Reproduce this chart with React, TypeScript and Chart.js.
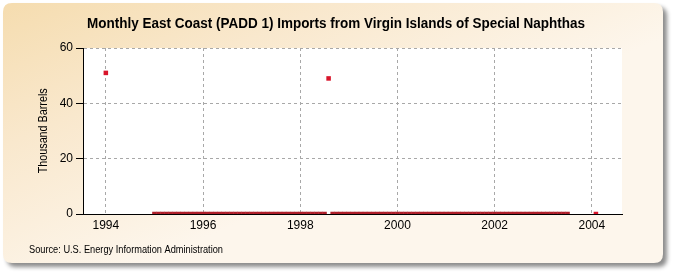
import React, { useEffect, useRef } from "react";
import { Chart, registerables } from "chart.js";

Chart.register(...registerables);

const TITLE = "Monthly East Coast (PADD 1) Imports from Virgin Islands of Special Naphthas";
const Y_TITLE = "Thousand Barrels";
const SOURCE = "Source: U.S. Energy Information Administration";

const X_TICKS = [1994, 1996, 1998, 2000, 2002, 2004];
const Y_TICKS = [0, 20, 40, 60];

const N = null;
// Monthly values (Jan..Dec), thousand barrels; null = no data
const YEARS = [1994, 1995, 1996, 1997, 1998, 1999, 2000, 2001, 2002, 2003, 2004];
const v1994 = [51, N, N, N, N, N, N, N, N, N, N, N];
const v1995 = [0, 0, 0, 0, 0, 0, 0, 0, 0, 0, 0, 0];
const v1996 = [0, 0, 0, 0, 0, 0, 0, 0, 0, 0, 0, 0];
const v1997 = [0, 0, 0, 0, 0, 0, 0, 0, 0, 0, 0, 0];
const v1998 = [0, 0, 0, 0, 0, 0, 0, 49, 0, 0, 0, 0];
const v1999 = [0, 0, 0, 0, 0, 0, 0, 0, 0, 0, 0, 0];
const v2000 = [0, 0, 0, 0, 0, 0, 0, 0, 0, 0, 0, 0];
const v2001 = [0, 0, 0, 0, 0, 0, 0, 0, 0, 0, 0, 0];
const v2002 = [0, 0, 0, 0, 0, 0, 0, 0, 0, 0, 0, 0];
const v2003 = [0, 0, 0, 0, 0, 0, 0, N, N, N, N, N];
const v2004 = [N, 0];
const SERIES = [v1994, v1995, v1996, v1997, v1998, v1999, v2000, v2001, v2002, v2003, v2004];

const NARROW = "'Liberation Sans Narrow', 'Arial Narrow', 'Liberation Sans', Arial, sans-serif";
const SANS = "'Liberation Sans', Arial, sans-serif";

function fitText(
  ctx: CanvasRenderingContext2D,
  text: string,
  x: number,
  y: number,
  targetW: number,
  font: string,
  align: CanvasTextAlign,
  rotate = 0
) {
  ctx.save();
  ctx.font = font;
  const w = ctx.measureText(text).width;
  const s = targetW / w;
  ctx.translate(x, y);
  if (rotate) ctx.rotate(rotate);
  ctx.scale(s, 1);
  ctx.textAlign = align;
  ctx.textBaseline = "middle";
  ctx.fillStyle = "#000";
  ctx.fillText(text, 0, 0);
  ctx.restore();
}

function roundRect(ctx: CanvasRenderingContext2D, x: number, y: number, w: number, h: number, r: number) {
  ctx.beginPath();
  ctx.moveTo(x + r, y);
  ctx.lineTo(x + w - r, y);
  ctx.quadraticCurveTo(x + w, y, x + w, y + r);
  ctx.lineTo(x + w, y + h - r);
  ctx.quadraticCurveTo(x + w, y + h, x + w - r, y + h);
  ctx.lineTo(x + r, y + h);
  ctx.quadraticCurveTo(x, y + h, x, y + h - r);
  ctx.lineTo(x, y + r);
  ctx.quadraticCurveTo(x, y, x + r, y);
  ctx.closePath();
}

const decorPlugin = {
  id: "decor",
  beforeDraw(chart: any) {
    const ctx: CanvasRenderingContext2D = chart.ctx;
    const { left, right, top, bottom } = chart.chartArea;
    ctx.save();
    ctx.fillStyle = "#fff";
    ctx.fillRect(0, 0, chart.width, chart.height);
    ctx.save();
    ctx.shadowColor = "rgba(0,0,0,0.45)";
    ctx.shadowBlur = 4;
    ctx.shadowOffsetX = 4;
    ctx.shadowOffsetY = 4;
    const g = ctx.createLinearGradient(0, 0, 120, 275);
    g.addColorStop(0, "#F5DCAE");
    g.addColorStop(0.45, "#F9E8CD");
    g.addColorStop(1, "#FDF6EC");
    ctx.fillStyle = g;
    roundRect(ctx, 3, 3, 660, 260, 9);
    ctx.fill();
    ctx.restore();
    ctx.fillStyle = "#fff";
    ctx.fillRect(left, top, right - left, bottom - top);
    ctx.restore();
  },
  afterDraw(chart: any) {
    const ctx: CanvasRenderingContext2D = chart.ctx;
    fitText(ctx, TITLE, 336, 24.5, 498, `bold 14px ${SANS}`, "center");
    fitText(ctx, Y_TITLE, 43.5, 130.8, 85, `12px ${SANS}`, "center", -Math.PI / 2);
    fitText(ctx, SOURCE, 29, 250, 194, `10px ${SANS}`, "left");
  },
};

export default function App() {
  const ref = useRef<HTMLCanvasElement | null>(null);

  useEffect(() => {
    if (!ref.current) return;
    const points: { x: number; y: number | null }[] = [];
    YEARS.forEach((yr, yi) => {
      SERIES[yi].forEach((v, m) => points.push({ x: yr + m / 12, y: v }));
    });
    const isolated = (i: number) => {
      const p = points[i];
      if (!p || p.y === null) return false;
      const a = points[i - 1];
      const b = points[i + 1];
      return (!a || a.y === null || a.y !== p.y) && (!b || b.y === null || b.y !== p.y);
    };

    const chart = new Chart(ref.current, {
      type: "line",
      data: {
        datasets: [
          {
            data: points as any,
            showLine: false,
            borderColor: "#AE1F2A",
            borderWidth: 0,
            pointStyle: "rect",
            pointRadius: 3.2,
            pointHoverRadius: 3.2,
            pointBorderWidth: 0,
            pointBackgroundColor: (c: any) => (isolated(c.dataIndex) ? "#D8142A" : "#AE1F2A"),
          },
        ],
      },
      options: {
        animation: false,
        responsive: false,
        devicePixelRatio: 1,
        layout: { padding: { left: 0, right: 53, top: 48, bottom: 41 } },
        plugins: { legend: { display: false }, tooltip: { enabled: false }, title: { display: false } },
        scales: {
          x: {
            type: "linear",
            min: 1993.53,
            max: 2004.62,
            afterBuildTicks: (s: any) => {
              s.ticks = X_TICKS.map((v) => ({ value: v }));
            },
            afterFit: (s: any) => {
              s.height = 20;
            },
            grid: { color: "#a8a8a8", lineWidth: 1, drawTicks: false },
            border: { color: "#000", width: 1, dash: [3, 3] },
            ticks: {
              autoSkip: false,
              maxRotation: 0,
              padding: 4,
              color: "#000",
              font: { family: NARROW, size: 12 },
              callback: (v: any) => String(v),
            },
          },
          y: {
            min: 0,
            max: 60,
            afterBuildTicks: (s: any) => {
              s.ticks = Y_TICKS.map((v) => ({ value: v }));
            },
            afterFit: (s: any) => {
              s.width = 83;
            },
            grid: { color: "#a8a8a8", lineWidth: 1, drawTicks: true, tickLength: 7, tickColor: "#000", tickBorderDash: [] },
            border: { color: "#000", width: 1, dash: [3, 3] },
            ticks: {
              padding: 3,
              color: "#000",
              font: { family: NARROW, size: 12 },
            },
          },
        },
      },
      plugins: [decorPlugin],
    });
    return () => chart.destroy();
  }, []);

  return (
    <div style={{ position: "absolute", left: 0, top: 0, width: 675, height: 275 }}>
      <canvas ref={ref} width={675} height={275} style={{ width: 675, height: 275, display: "block" }} />
    </div>
  );
}
